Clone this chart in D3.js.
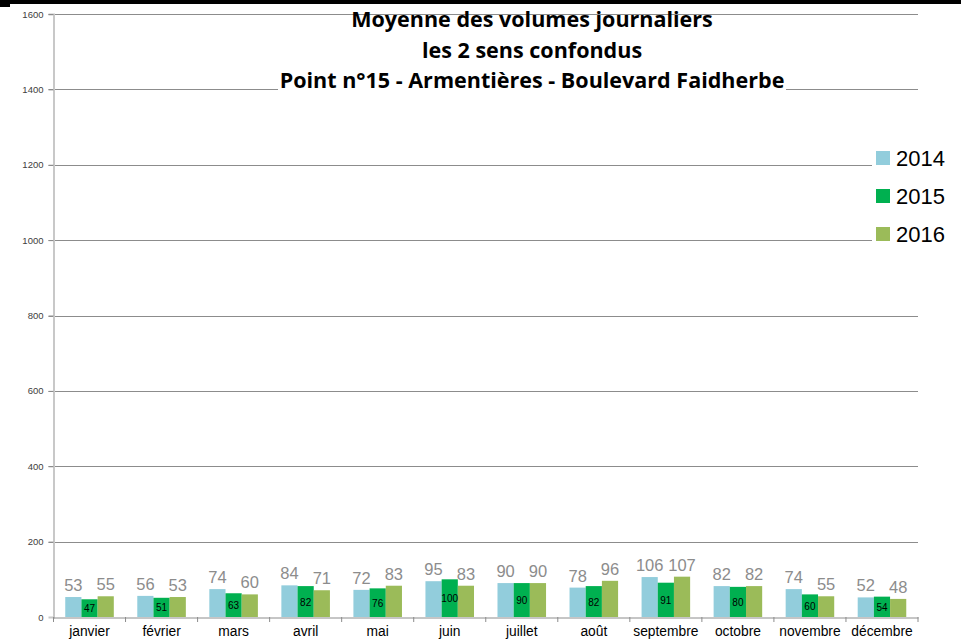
<!DOCTYPE html>
<html><head><meta charset="utf-8">
<script src="https://cdnjs.cloudflare.com/ajax/libs/d3/7.8.5/d3.min.js"></script>
<style>body{margin:0;background:#fff}svg{display:block}</style>
</head><body>
<svg id="c" width="961" height="641"></svg>
<script>
const months = ["janvier","février","mars","avril","mai","juin","juillet","août","septembre","octobre","novembre","décembre"];
const years = ["2014","2015","2016"];
const v2014 = [53,56,74,84,72,95,90,78,106,82,74,52];
const v2015 = [47,51,63,82,76,100,90,82,91,80,60,54];
const v2016 = [55,53,60,71,83,83,90,96,107,82,55,48];
const yTicks = [0,200,400,600,800,1000,1200,1400,1600];
const titleLines = ["Moyenne des volumes journaliers","les 2 sens confondus","Point n°15 - Armentières - Boulevard Faidherbe"];
const colors = {"2014":"#92CDDC","2015":"#00B050","2016":"#9BBB59"};
const series = {"2014":v2014,"2015":v2015,"2016":v2016};

const svg = d3.select("#c");
const L = 53.5, R = 918, T = 14, B = 617;
const y = d3.scaleLinear().domain([0,1600]).range([B,T]);
const x0 = d3.scaleBand().domain(months).range([L,R]).padding(0);
const gw = x0.bandwidth()*0.674;
const x1 = d3.scaleBand().domain(years).range([0,gw]).padding(0);
const off = (x0.bandwidth()-gw)/2;
const FF = "Liberation Sans, Arial, sans-serif";

// top black border
svg.append("rect").attr("x",0).attr("y",0).attr("width",961).attr("height",4).attr("fill","#000");
svg.append("rect").attr("x",0).attr("y",0).attr("width",10).attr("height",7).attr("fill","#000");

// gridlines
svg.append("g").selectAll("line").data(yTicks.filter(d=>d>0)).join("line")
  .attr("x1",L-5).attr("x2",R).attr("y1",d=>Math.round(y(d))+0.5).attr("y2",d=>Math.round(y(d))+0.5)
  .attr("stroke","#8c8c8c").attr("stroke-width",1);

// y axis
const ya = svg.append("g").attr("transform",`translate(${L},0)`)
  .call(d3.axisLeft(y).tickValues(yTicks).tickFormat(d3.format("d")).tickSize(5).tickPadding(5));
ya.select(".domain").attr("stroke","#c8c8c8").attr("stroke-width",2);
ya.selectAll(".tick line").attr("stroke","#8c8c8c");
ya.selectAll("text").attr("font-family",FF).attr("font-size","9.5px").attr("fill","#404040");
ya.selectAll(".tick").filter(d=>d===0).select("line").remove();

// bars
const gm = svg.append("g").selectAll("g").data(months).join("g")
  .attr("transform",d=>`translate(${x0(d)+off},0)`);
years.forEach(yr=>{
  gm.append("rect")
    .attr("x",x1(yr)).attr("width",x1.bandwidth())
    .attr("y",(d,i)=>y(series[yr][i])).attr("height",(d,i)=>B-y(series[yr][i]))
    .attr("fill",colors[yr]);
});
// labels 2014 & 2016 (gray above)
["2014","2016"].forEach(yr=>{
  gm.append("text")
    .attr("x",x1(yr)+x1.bandwidth()/2).attr("y",(d,i)=>y(series[yr][i])-6)
    .attr("text-anchor","middle").attr("font-family",FF)
    .attr("font-size","16.5px").attr("fill","#8c8c8c").text((d,i)=>series[yr][i]);
});
// labels 2015 centered inside
gm.append("text")
  .attr("x",x1("2015")+x1.bandwidth()/2).attr("y",(d,i)=>(y(v2015[i])+B)/2+4)
  .attr("text-anchor","middle").attr("font-family",FF)
  .attr("font-size","10px").attr("fill","#000").text((d,i)=>v2015[i]);

// x axis
const xa = svg.append("g").attr("transform",`translate(0,${B+0.5})`)
  .call(d3.axisBottom(x0).tickSize(0).tickPadding(9));
xa.select(".domain").attr("stroke","#8c8c8c");
xa.selectAll("text").attr("font-family",FF).attr("font-size","13.8px").attr("fill","#000");
svg.append("g").selectAll("line").data(d3.range(months.length+1)).join("line")
  .attr("x1",i=>L+i*x0.step()).attr("x2",i=>L+i*x0.step())
  .attr("y1",B).attr("y2",B+5).attr("stroke","#8c8c8c");

// title
const tg = svg.append("g");
tg.append("rect").attr("x",278).attr("y",16).attr("width",508).attr("height",78).attr("fill","#fff");
const tt = tg.selectAll("text").data(titleLines).join("text")
  .attr("x",532).attr("y",(d,i)=>27+i*30.5).attr("text-anchor","middle")
  .attr("font-family","Open Sans, Liberation Sans, Arial, sans-serif").attr("font-weight","bold")
  .attr("font-size","19px").attr("fill","#000").text(d=>d);
const w3 = tt.nodes()[2].getComputedTextLength();
if (w3 > 0) tt.attr("font-size", (19*505/w3).toFixed(2)+"px");

// legend
const lg = svg.append("g");
lg.append("rect").attr("x",872).attr("y",140).attr("width",89).attr("height",110).attr("fill","#fff");
const li = lg.selectAll("g").data(years).join("g").attr("transform",(d,i)=>`translate(876,${158+i*38})`);
li.append("rect").attr("x",0).attr("y",-7).attr("width",14).attr("height",14).attr("fill",d=>colors[d]);
li.append("text").attr("x",20).attr("y",8).attr("font-family",FF)
  .attr("font-size","22px").attr("fill","#000").text(d=>d);
</script>
</body></html>
